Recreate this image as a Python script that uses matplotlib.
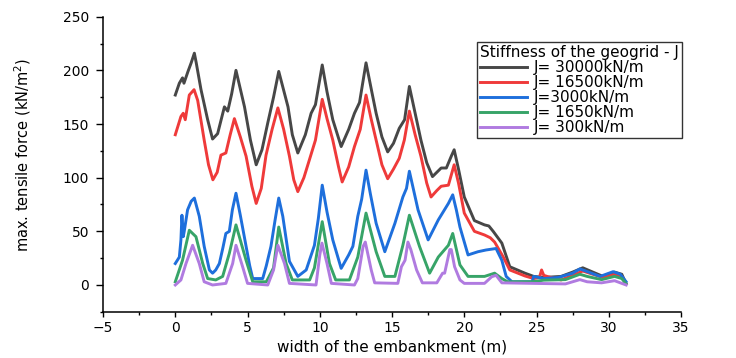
import matplotlib
matplotlib.use('Agg')
import matplotlib.pyplot as plt
from matplotlib.ticker import MultipleLocator

# values
x_30000 = [0, 0.28, 0.5, 0.6, 0.88, 1.1, 1.32, 1.45, 1.78, 2.24, 2.58, 2.93, 3.4, 3.63, 3.9,
           4.2, 4.79, 5.2, 5.6, 6.0, 6.4, 6.8, 7.16, 7.8, 8.1, 8.48, 9.0, 9.4, 9.7, 10.17,
           10.5, 10.9, 11.48, 12.0, 12.4, 12.75, 13.2, 13.6, 13.9, 14.3, 14.7, 15.1, 15.5,
           15.87, 16.2, 16.6, 17.0, 17.4, 17.8, 18.4, 18.76, 19.1, 19.3, 19.6, 20.0, 20.7,
           21.4, 21.7, 22.0, 22.6, 23.15, 24.2, 24.8, 25.5, 26.7, 27.5, 28.2, 28.9, 29.6,
           30.4, 30.9, 31.2]
y_30000 = [177, 188, 193, 188, 199, 207, 216, 207, 182, 154, 136, 141, 166, 162, 178,
           200, 166, 135, 112, 126, 151, 175, 199, 166, 140, 123, 140, 160, 168, 205,
           180, 154, 129, 145, 160, 170, 207, 180, 160, 138, 124, 132, 146,
           154, 185, 160, 135, 114, 101, 109, 109, 120, 126, 108, 82, 60,
           56, 55, 50, 39, 17, 11, 8, 7, 8, 12, 16, 12, 8,
           12, 10, 1]

x_16500 = [0, 0.39, 0.55, 0.69, 0.97, 1.3, 1.55, 2.0, 2.3, 2.6, 2.9, 3.16, 3.5, 3.8, 4.09,
           4.5, 4.9, 5.3, 5.6, 5.95, 6.28, 6.7, 7.1, 7.5, 7.9, 8.2, 8.48, 8.9, 9.29, 9.7,
           10.17, 10.5, 10.9, 11.3, 11.55, 12.0, 12.4, 12.8, 13.2, 13.55, 13.9, 14.3, 14.7,
           15.1, 15.5, 15.85, 16.2, 16.6, 17.0, 17.4, 17.7, 18.1, 18.4, 18.9, 19.3, 19.6,
           20.0, 20.7, 21.4, 21.8, 22.1, 22.7, 23.15, 24.2, 24.8, 25.2, 25.35, 25.5, 25.8,
           26.7, 27.5, 28.2, 28.9, 29.6, 30.4, 30.9, 31.2]
y_16500 = [140, 157, 160, 154, 177, 182, 172, 135, 112, 98, 105, 121, 123, 140, 155,
           138, 120, 92, 76, 90, 121, 145, 165, 145, 120, 98, 87, 100, 117, 135,
           173, 155, 135, 110, 96, 110, 129, 145, 177, 155, 135, 112, 99,
           108, 118, 135, 162, 140, 120, 95, 82, 88, 92, 93, 112, 95,
           67, 50, 46.6, 44, 40, 26, 14, 8.4, 6, 7, 14, 9, 7.7,
           4.7, 9, 13, 10, 7, 10, 8, 1]

x_3000 = [0, 0.28, 0.39, 0.46, 0.55, 0.62, 0.85, 1.1, 1.32, 1.66, 2.0, 2.36, 2.58, 2.8,
          3.05, 3.3, 3.5, 3.74, 3.95, 4.2, 4.5, 4.9, 5.15, 5.36, 6.05, 6.3, 6.62, 6.9,
          7.16, 7.44, 7.9, 8.48, 9.06, 9.63, 9.9, 10.17, 10.5, 10.9, 11.48, 12.0, 12.29,
          12.63, 12.9, 13.2, 13.5, 13.9, 14.5, 15.2, 15.75, 16.0, 16.2, 16.5, 16.8, 17.5,
          18.2, 18.9, 19.2, 19.45, 19.7, 20.26, 20.95, 21.5, 22.2, 22.6, 22.9, 23.3, 24.7,
          24.8, 25.5, 26.5, 27.5, 28.0, 28.4, 29.4, 30.3, 30.8, 31.2]
y_3000 = [20, 26, 42, 65, 45, 50, 70, 78, 81, 64, 36, 14, 11, 14,
          20, 35, 48, 50, 70, 85.5, 65, 36, 18, 6, 6, 18, 36, 60,
          81, 64, 22, 8, 14, 37, 62, 93, 68, 42, 15.5, 28, 36,
          64, 80, 107, 85, 57.5, 31, 57.5, 82, 90, 106, 88, 70, 42,
          60.6, 76, 84, 70, 54, 28, 31, 32.6, 34, 23, 8, 3, 3,
          8, 6, 7, 11, 15, 13, 8, 12.4, 10, 3]

x_1650 = [0, 0.5, 0.97, 1.2, 1.43, 1.9, 2.24, 2.8, 3.28, 3.74, 4.2, 4.9, 5.36, 6.3, 6.8,
          7.16, 7.67, 8.1, 9.3, 9.63, 10.17, 10.67, 11.1, 12.05, 12.63, 13.2, 13.9, 14.5,
          15.2, 15.75, 16.2, 16.9, 17.6, 18.2, 18.9, 19.2, 19.7, 20.26, 21.4, 22.1, 22.6,
          23.0, 24.7, 25.5, 27.0, 28.0, 28.5, 29.5, 30.4, 30.9, 31.2]
y_1650 = [3, 23, 51, 48, 45, 20, 6, 4.7, 8, 29.5, 56, 23, 3, 3, 16,
          54, 20, 4.7, 4.7, 16, 59, 20, 4.7, 4.7, 26, 67, 31, 8,
          8, 37, 65, 36, 11, 26, 37, 48, 18.7, 8, 8, 11, 6,
          3, 3, 4.5, 5, 10, 8, 5, 8, 6, 1]

x_300 = [0, 0.39, 0.74, 1.2, 1.66, 2.0, 2.58, 3.5, 3.97, 4.2, 4.66, 5.0, 6.4, 6.8, 7.1,
         7.56, 7.9, 9.74, 10.0, 10.15, 10.5, 10.8, 12.4, 12.63, 13.0, 13.15, 13.56, 13.8,
         15.4, 15.65, 15.9, 16.1, 16.3, 16.7, 17.1, 18.1, 18.5, 18.64, 19.0, 19.1, 19.33,
         19.7, 20.0, 21.4, 21.9, 22.2, 22.6, 27.0, 28.0, 28.5, 29.5, 30.4, 31.2]
y_300 = [0, 4.7, 20, 37, 20, 3, 0, 1.5, 20, 37, 17, 1.5, 0, 14, 37,
         20, 1.5, 0, 28, 39, 20, 1.5, 0, 6, 36, 40, 14, 2,
         1.5, 17, 23, 40, 33, 14, 2, 2, 11, 11, 33, 33, 17,
         4.7, 1.5, 1.5, 7.7, 9, 2, 1, 5, 3, 2, 4, 0]

series = [
    (x_30000, y_30000, 'J= 30000kN/m', '#474747'),
    (x_16500, y_16500, 'J= 16500kN/m', '#ef3a3a'),
    (x_3000, y_3000, 'J=3000kN/m', '#1e6fdc'),
    (x_1650, y_1650, 'J= 1650kN/m', '#37a468'),
    (x_300, y_300, 'J= 300kN/m', '#b07be0'),
]

plt.rcParams['font.family'] = ['DejaVu Sans']

fig = plt.figure(figsize=(7.36, 3.58), dpi=100)
ax = fig.add_axes([0.140, 0.129, 0.7853, 0.8244])

for xs, ys, label, color in series:
    ax.plot(xs, ys, color=color, lw=2.1, label=label, solid_joinstyle='round')

ax.set_xlim(-5, 35)
ax.set_ylim(-25, 250)
ax.xaxis.set_major_locator(MultipleLocator(5))
ax.xaxis.set_minor_locator(MultipleLocator(2.5))
ax.yaxis.set_major_locator(MultipleLocator(50))
ax.yaxis.set_minor_locator(MultipleLocator(25))

ax.spines['top'].set_visible(False)
ax.spines['right'].set_visible(False)
ax.spines['left'].set_linewidth(1.1)
ax.spines['bottom'].set_linewidth(1.1)
ax.tick_params(axis='both', which='both', direction='out', width=1.0, labelsize=10)
ax.tick_params(axis='x', which='major', length=3.5, pad=3)
ax.tick_params(axis='y', which='major', length=5, pad=5)
ax.tick_params(which='minor', length=2)

ax.set_xlabel('width of the embankment (m)', fontsize=11)
ax.xaxis.set_label_coords(0.5, -0.093)
ax.set_ylabel('max. tensile force (kN/m$^2$)', fontsize=10.5)
ax.yaxis.set_label_coords(-0.121, 0.53)

leg = ax.legend(title='Stiffness of the geogrid - J', loc='upper left',
                bbox_to_anchor=(0.648, 0.883), bbox_transform=fig.transFigure,
                borderaxespad=0, fontsize=11, title_fontsize=11, alignment='left',
                fancybox=False, framealpha=1, edgecolor='#333333',
                borderpad=0.2, labelspacing=0.0, handlelength=3.1,
                handletextpad=0.45)
leg.get_frame().set_linewidth(1.0)

fig.savefig('out.png', dpi=100)
